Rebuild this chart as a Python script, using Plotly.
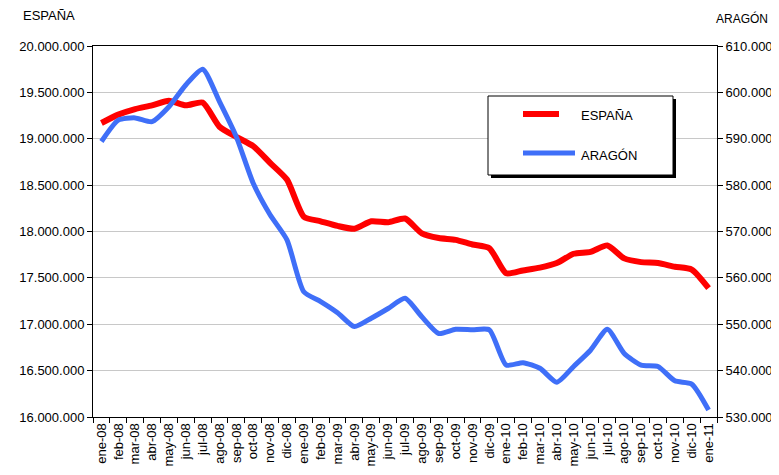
import plotly.graph_objects as go

months = ["ene-08","feb-08","mar-08","abr-08","may-08","jun-08","jul-08","ago-08","sep-08","oct-08","nov-08","dic-08",
          "ene-09","feb-09","mar-09","abr-09","may-09","jun-09","jul-09","ago-09","sep-09","oct-09","nov-09","dic-09",
          "ene-10","feb-10","mar-10","abr-10","may-10","jun-10","jul-10","ago-10","sep-10","oct-10","nov-10","dic-10",
          "ene-11"]

espana = [19170000, 19260000, 19320000, 19360000, 19410000, 19360000, 19390000, 19130000, 19020000, 18920000,
          18740000, 18560000, 18160000, 18110000, 18060000, 18030000, 18110000, 18100000, 18140000, 17980000,
          17930000, 17910000, 17860000, 17820000, 17550000, 17580000, 17610000, 17660000, 17760000, 17780000,
          17850000, 17710000, 17670000, 17660000, 17620000, 17590000, 17390000]

aragon = [589400, 594000, 594500, 593700, 596900, 601600, 605000, 598000, 590400, 580400,
          573600, 568200, 557000, 554900, 552500, 549500, 551300, 553400, 555600, 551600,
          548000, 548900, 548800, 548800, 541200, 541700, 540500, 537500, 540900, 544400,
          548900, 543700, 541200, 540900, 537800, 537100, 531500]

left_ticks = list(range(16000000, 20000001, 500000))
left_labels = [f"{v:,}".replace(",", ".") for v in left_ticks]
right_ticks = list(range(530000, 610001, 10000))
right_labels = [f"{v:,}".replace(",", ".") for v in right_ticks]

RED = "#FF0000"
BLUE = "#3F6FF8"
FONT = "Liberation Sans"

fig = go.Figure()
fig.add_trace(go.Scatter(x=months, y=espana, name="ESPAÑA", mode="lines",
                         line=dict(color=RED, width=6, shape="spline", smoothing=0.6), yaxis="y"))
fig.add_trace(go.Scatter(x=months, y=aragon, name="ARAGÓN", mode="lines",
                         line=dict(color=BLUE, width=5, shape="spline", smoothing=0.6), yaxis="y2"))

# page body has an 8px margin, so the figure is shifted by 8px
fig.update_layout(
    template="none",
    width=779, height=475,
    margin=dict(l=85, r=70, t=38, b=66, pad=0),
    paper_bgcolor="white", plot_bgcolor="white",
    showlegend=False,
    font=dict(family=FONT, size=13, color="black"),
    xaxis=dict(type="category", tickson="boundaries", ticks="outside", ticklen=5, tickcolor="black",
               showline=True, linecolor="black", linewidth=1, mirror=True, showgrid=False, automargin=False,
               tickangle=-90, tickfont=dict(size=13, family=FONT), range=[-0.5, len(months) - 0.5]),
    yaxis=dict(range=[16000000, 20000000], tickvals=left_ticks, ticktext=left_labels, automargin=False,
               ticks="outside", ticklen=5, tickcolor="black", showline=True, linecolor="black", linewidth=1,
               showgrid=True, gridcolor="#C8C8C8", gridwidth=1, zeroline=False,
               tickfont=dict(size=13, family=FONT)),
    yaxis2=dict(range=[530000, 610000], tickvals=right_ticks, ticktext=right_labels, overlaying="y", side="right",
                automargin=False,
                ticks="outside", ticklen=5, tickcolor="black", showline=True, linecolor="black", linewidth=1,
                showgrid=False, zeroline=False, tickfont=dict(size=13, family=FONT)),
)

# custom legend box with shadow (paper coords, from screen pixels)
W, H = 624, 371
def px(x):
    return (x - 93) / W
def py(y):
    return 1 - (y - 46) / H

# axis titles
fig.add_annotation(text="ESPAÑA", xref="paper", yref="paper", x=-0.115, y=1.0, yshift=31,
                   showarrow=False, xanchor="left", yanchor="middle", font=dict(size=13, family=FONT))
fig.add_annotation(text="ARAGÓN", xref="paper", yref="paper", x=px(770), y=1.0, yshift=28,
                   showarrow=False, xanchor="right", yanchor="middle", font=dict(size=12, family=FONT))

fig.add_shape(type="rect", xref="paper", yref="paper", x0=px(491), x1=px(676), y0=py(178), y1=py(99),
              fillcolor="black", line=dict(width=0), layer="above")
fig.add_shape(type="rect", xref="paper", yref="paper", x0=px(488), x1=px(673), y0=py(175), y1=py(96),
              fillcolor="white", line=dict(color="black", width=1), layer="above")
fig.add_shape(type="line", xref="paper", yref="paper", x0=px(523), x1=px(559), y0=py(114), y1=py(114),
              line=dict(color=RED, width=6), layer="above")
fig.add_shape(type="line", xref="paper", yref="paper", x0=px(523), x1=px(575), y0=py(153), y1=py(153),
              line=dict(color=BLUE, width=5), layer="above")
fig.add_annotation(text="ESPAÑA", xref="paper", yref="paper", x=px(579), y=py(116), showarrow=False,
                   xanchor="left", yanchor="middle", font=dict(size=13, family=FONT))
fig.add_annotation(text="ARAGÓN", xref="paper", yref="paper", x=px(579), y=py(155), showarrow=False,
                   xanchor="left", yanchor="middle", font=dict(size=13, family=FONT))

fig.write_html("out.html")
